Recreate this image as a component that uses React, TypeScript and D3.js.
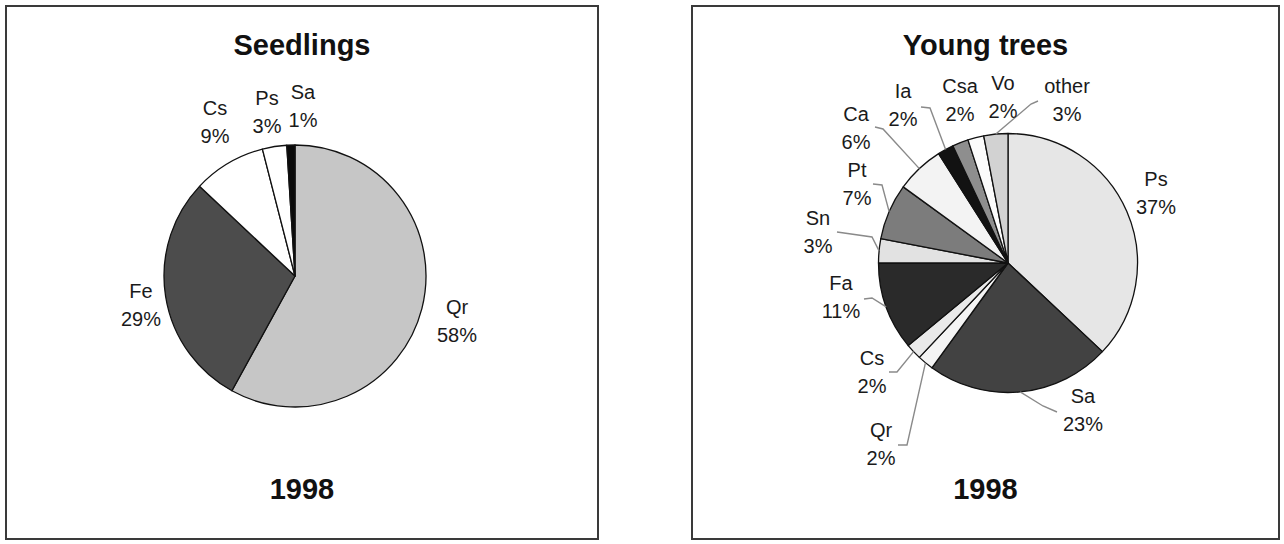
import React from "react";
import * as d3 from "d3";

// Species shares (%) for 1998
const seedlingSpecies = ["Qr", "Fe", "Cs", "Ps", "Sa"];
const seedlingShares = [58, 29, 9, 3, 1];

const youngSpecies = ["Ps", "Sa", "Qr", "Cs", "Fa", "Sn", "Pt", "Ca", "Ia", "Csa", "Vo", "other"];
const youngShares = [37, 23, 2, 2, 11, 3, 7, 6, 2, 2, 2, 3];

const panelTitles = ["Seedlings", "Young trees"];
const yearLabel = "1998";

// Grey-scale fills, one per slice
const seedlingFills = ["#c6c6c6", "#4c4c4c", "#ffffff", "#ffffff", "#0a0a0a"];
const youngFills = [
  "#e6e6e6", "#424242", "#f4f4f4", "#e9e9e9", "#2a2a2a", "#e2e2e2",
  "#7c7c7c", "#f3f3f3", "#121212", "#8e8e8e", "#fbfbfb", "#d2d2d2",
];

type LabelPos = { x: number; y: number; lead?: [number, number, number, number] };

// Label anchors (centre x, first baseline) and optional leader start/elbow
const seedlingLabelLayout: Record<string, LabelPos> = {
  Qr: { x: 457, y: 314 },
  Fe: { x: 141, y: 298 },
  Cs: { x: 215, y: 115 },
  Ps: { x: 267, y: 105 },
  Sa: { x: 303, y: 99 },
};

const youngLabelLayout: Record<string, LabelPos> = {
  Ps: { x: 1156, y: 186 },
  Sa: { x: 1083, y: 403, lead: [1057, 412, 1043, 406] },
  Qr: { x: 881, y: 437, lead: [898, 445, 907, 445] },
  Cs: { x: 872, y: 365, lead: [889, 372, 897, 372] },
  Fa: { x: 841, y: 290, lead: [864, 299, 872, 298] },
  Sn: { x: 818, y: 225, lead: [837, 232, 872, 237] },
  Pt: { x: 857, y: 177, lead: [873, 184, 882, 185] },
  Ca: { x: 856, y: 121, lead: [875, 127, 883, 129] },
  Ia: { x: 903, y: 98, lead: [921, 107, 930, 108] },
  Csa: { x: 960, y: 93 },
  Vo: { x: 1003, y: 90 },
  other: { x: 1067, y: 93, lead: [1038, 101, 1031, 104] },
};

const FONT = "'Liberation Sans', Arial, Helvetica, sans-serif";
const LABEL_SIZE = 20;
const LINE_GAP = 28;

interface PieProps {
  cx: number;
  cy: number;
  r: number;
  species: string[];
  shares: number[];
  fills: string[];
  layout: Record<string, LabelPos>;
}

function Pie({ cx, cy, r, species, shares, fills, layout }: PieProps) {
  const arcs = d3.pie<number>().sort(null).value((d) => d)(shares);
  const arcGen = d3.arc<d3.PieArcDatum<number>>().innerRadius(0).outerRadius(r);

  return (
    <g>
      <g transform={`translate(${cx},${cy})`}>
        {arcs.map((a, i) => (
          <path
            key={species[i]}
            d={arcGen(a) || ""}
            fill={fills[i]}
            stroke="#111"
            strokeWidth={1.3}
            strokeLinejoin="round"
          />
        ))}
      </g>
      {arcs.map((a, i) => {
        const pos = layout[species[i]];
        if (!pos || !pos.lead) return null;
        const mid = (a.startAngle + a.endAngle) / 2;
        const ex = cx + r * Math.sin(mid);
        const ey = cy - r * Math.cos(mid);
        const [sx, sy, mx, my] = pos.lead;
        return (
          <polyline
            key={`lead-${species[i]}`}
            points={`${sx},${sy} ${mx},${my} ${ex},${ey}`}
            fill="none"
            stroke="#8a8a8a"
            strokeWidth={1.4}
          />
        );
      })}
      {arcs.map((a, i) => {
        const pos = layout[species[i]];
        if (!pos) return null;
        return (
          <text
            key={`lab-${species[i]}`}
            x={pos.x}
            y={pos.y}
            textAnchor="middle"
            fontFamily={FONT}
            fontSize={LABEL_SIZE}
            fill="#1a1a1a"
          >
            <tspan x={pos.x}>{species[i]}</tspan>
            <tspan x={pos.x} dy={LINE_GAP}>{`${shares[i]}%`}</tspan>
          </text>
        );
      })}
    </g>
  );
}

function Panel({ x0, x1, title }: { x0: number; x1: number; title: string }) {
  const mid = (x0 + x1) / 2;
  return (
    <g>
      <rect x={x0} y={6} width={x1 - x0} height={533} fill="#fff" stroke="#3a3a3a" strokeWidth={2} />
      <text x={mid} y={55} textAnchor="middle" fontFamily={FONT} fontWeight="bold" fontSize={29} fill="#111">
        {title}
      </text>
      <text x={mid} y={499} textAnchor="middle" fontFamily={FONT} fontWeight="bold" fontSize={29} fill="#111">
        {yearLabel}
      </text>
    </g>
  );
}

export default function App() {
  return (
    <svg
      width={1284}
      height={544}
      viewBox="0 0 1284 544"
      style={{ position: "absolute", left: 0, top: 0, background: "#fff" }}
    >
      <Panel x0={6} x1={598} title={panelTitles[0]} />
      <Panel x0={692} x1={1279} title={panelTitles[1]} />
      <Pie
        cx={295}
        cy={276}
        r={131}
        species={seedlingSpecies}
        shares={seedlingShares}
        fills={seedlingFills}
        layout={seedlingLabelLayout}
      />
      <Pie
        cx={1008}
        cy={263}
        r={129.5}
        species={youngSpecies}
        shares={youngShares}
        fills={youngFills}
        layout={youngLabelLayout}
      />
    </svg>
  );
}
